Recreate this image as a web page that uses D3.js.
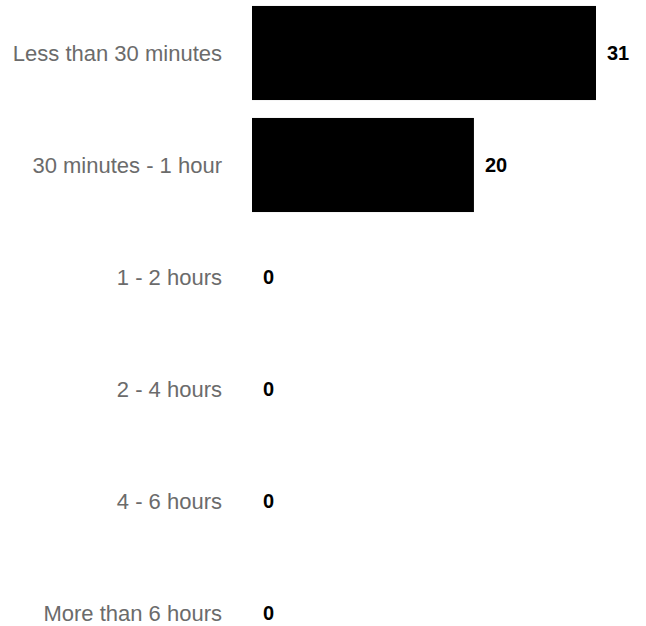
<!DOCTYPE html>
<html>
<head>
<meta charset="utf-8">
<script src="https://cdn.jsdelivr.net/npm/d3@7"></script>
<style>
body{margin:0;background:#fff;}
text{font-family:"Liberation Sans",Arial,Helvetica,sans-serif;}
</style>
</head>
<body>
<div class="chart"></div>
<script>
// categories and counts
var categories=[
	"Less than 30 minutes",
	"30 minutes - 1 hour",
	"1 - 2 hours",
	"2 - 4 hours",
	"4 - 6 hours",
	"More than 6 hours"
];
var counts=[31,20,0,0,0,0];

var width=646;
var height=626;
var svg=d3.select('div.chart')
		.append('svg')
		.attr('width',width)
		.attr('height',height);

var data=categories.map(function(c,i){
	return {cat:c,value:counts[i]};
});

var x=d3.scaleLinear()
		.domain([0,d3.max(counts)])
		.range([252,596]);
var y=d3.scaleBand()
		.domain(categories)
		.range([-3,669])
		.paddingInner(0.16)
		.paddingOuter(0.08);

var rows=svg.selectAll('g.row')
		.data(data)
		.enter()
		.append('g')
		.attr('class','row');

rows.append('rect')
	.attr('x',x(0))
	.attr('y',function(d){return y(d.cat);})
	.attr('width',function(d){return x(d.value)-x(0);})
	.attr('height',y.bandwidth())
	.attr('fill','#000');

//category labels
rows.append('text')
	.attr('x',222)
	.attr('y',function(d){return y(d.cat)+y.bandwidth()/2;})
	.attr('dy','0.35em')
	.attr('text-anchor','end')
	.style('font-size','22px')
	.style('fill','#6b6b6b')
	.text(function(d){return d.cat;});

//value labels
rows.append('text')
	.attr('x',function(d){return x(d.value)+11;})
	.attr('y',function(d){return y(d.cat)+y.bandwidth()/2;})
	.attr('dy','0.35em')
	.style('font-size','20px')
	.style('font-weight','bold')
	.style('fill','#000')
	.text(function(d){return d.value;});
</script>
</body>
</html>
